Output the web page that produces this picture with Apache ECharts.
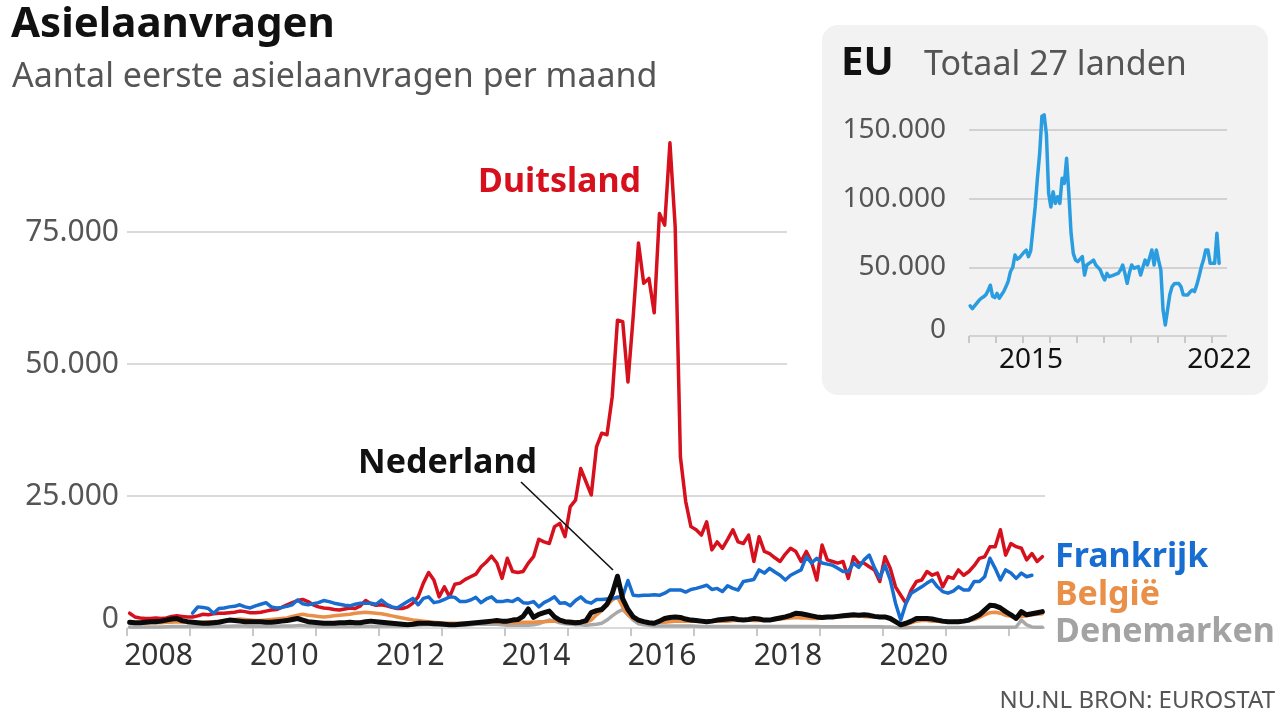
<!DOCTYPE html>
<html><head><meta charset="utf-8">
<script src="https://cdn.jsdelivr.net/npm/echarts@6/dist/echarts.min.js"></script>
<style>html,body{margin:0;padding:0;background:#fff}#c{width:1280px;height:720px}</style>
</head><body><div id="c"></div>
<script>
const FONT = '"Noto Sans", "Open Sans", sans-serif';

// ---- DATA (monthly first-time asylum applications) ----
const mainStart = [2008, 1];      // Jan 2008
const frankrijkStart = [2009, 1]; // Jan 2009
const euStart = [2013, 1];        // Jan 2013
const axisEndYear = 2022 + 7 / 12;

const duitsland = [
  2800,2100,1900,1800,1800,1900,1800,1900,2200,2300,2200,2100,
  2100,2300,2600,2500,2700,2800,2800,2900,3000,3200,3100,2900,
  2900,3000,3200,3400,3500,3900,4400,4800,5200,5400,5000,4400,
  4000,3800,3700,3500,3400,3600,3800,3700,4200,5200,4600,4300,
  4400,4200,3900,3700,3700,4000,4700,5900,8500,10500,9100,5900,
  7800,5900,8300,8500,9200,9700,10200,11600,12500,13600,12300,9400,
  13200,10700,10500,10700,12300,13500,16800,16300,16000,19200,19800,17300,
  23000,24200,30200,27700,25200,34300,36900,36600,43800,58300,58000,46600,
  59000,72900,65300,66200,59700,78500,76300,91900,76000,32400,24000,19200,
  18600,17600,20100,14800,16300,15100,16800,18600,16300,16000,17600,12600,
  17300,14500,14100,13300,12600,14000,15100,14500,12600,14500,12500,9100,
  15700,12900,12600,12300,12600,9400,13500,12300,12300,11600,11000,8800,
  13500,11300,7800,6200,4700,7200,8800,9100,10700,10000,10400,7800,
  9700,9400,11000,10000,10700,11800,13200,13500,15400,15400,18600,13800,
  16000,15400,15100,12900,14100,12600,13500
];
const frankrijk = [
  2800,4000,3900,3700,2800,3700,3800,4000,4100,4400,4000,3800,
  4200,4500,4800,4000,3800,3900,4100,4400,5300,4600,4400,4600,
  4800,5200,5000,4700,4500,4300,4200,4500,4700,4700,4700,4500,
  5300,4500,4000,3800,4400,5000,5600,4400,5600,5900,4800,5000,
  5400,5900,5800,5000,5000,5300,5800,4800,5500,5900,5000,5000,
  5200,5000,5600,4800,4700,5000,4000,4800,5300,5900,4700,4800,
  4200,5200,5900,5000,4700,5400,5400,5500,5600,5800,6000,9000,
  6200,6100,6200,6200,6300,6200,6600,7200,7200,7200,6800,7300,
  7500,7800,8100,7300,7500,6900,8000,7500,7200,8800,9000,9200,
  11000,10400,11300,10600,10000,9100,10000,10500,11000,13500,12300,13200,
  12300,12100,11900,11300,10700,10700,12300,11500,12900,13800,11400,9500,
  11900,9100,4700,1500,4700,6600,7200,7800,8500,9100,7800,6900,
  6600,7000,7800,7200,7200,8800,8800,9700,13200,11300,9100,11000,
  10400,9400,10400,9700,10000
];
const belgie = [
  900,900,900,900,1000,1000,1000,1100,1100,1200,1100,1100,
  1100,1000,1100,1200,1200,1300,1400,1500,1600,1700,1600,1500,
  1400,1400,1500,1600,1700,1800,1900,2200,2400,2600,2400,2300,
  2200,2100,2200,2300,2400,2500,2600,2800,2900,3000,2900,2800,
  2700,2500,2300,2100,1900,1700,1500,1400,1300,1200,1100,1000,
  900,900,900,900,900,900,1000,1000,1100,1200,1100,1000,
  1000,1000,1000,1100,1100,1100,1200,1200,1300,1300,1300,1200,
  1300,1200,1200,1100,1500,2500,3300,4300,5300,5900,4000,2500,
  1800,1300,1100,1000,1000,1100,1100,1200,1300,1300,1300,1300,
  1300,1200,1200,1300,1300,1300,1300,1400,1400,1500,1500,1400,
  1400,1400,1500,1600,1700,1800,1900,2000,1900,1900,1800,1800,
  1900,2000,2100,2100,2200,2200,2300,2300,2200,2100,2200,2100,
  2000,1800,1200,500,600,1000,1300,1400,1400,1300,1300,1200,
  1200,1200,1300,1300,1400,1600,2000,2500,2900,3000,2800,2400,
  2200,2100,2200,2300,2500,2600,2700
];
const denemarken = [
  200,200,200,200,200,200,200,250,300,300,300,300,
  300,300,300,300,300,350,350,350,400,400,400,350,
  350,350,350,350,350,400,400,400,450,450,400,400,
  300,300,300,300,300,300,300,300,350,350,350,300,
  400,400,400,400,400,500,500,500,600,600,600,500,
  500,500,500,500,500,600,700,700,700,700,700,600,
  500,500,500,500,500,600,800,1200,1500,1300,1000,800,
  700,600,600,500,600,700,900,1500,2300,3000,3500,2500,
  1500,800,600,500,400,400,400,400,400,400,400,400,
  350,300,300,300,300,300,300,300,300,300,300,300,
  300,300,300,300,300,300,300,300,300,300,300,300,
  250,250,250,250,250,250,250,250,250,250,250,250,
  200,200,100,50,50,100,100,100,100,100,100,100,
  100,100,100,100,100,100,150,150,150,150,150,150,
  150,200,1500,600,200,150,150
];
const nederland = [
  1100,1000,1000,1100,1200,1200,1300,1500,1700,1800,1400,1200,
  1100,1000,900,900,1000,1100,1300,1500,1400,1300,1200,1200,
  1200,1200,1100,1100,1200,1300,1400,1600,1800,1500,1200,1100,
  1000,900,900,900,1000,1000,1100,1000,1000,1200,1300,1200,
  1100,1000,900,800,700,600,700,900,900,900,800,800,
  700,600,600,700,800,900,1000,1100,1200,1300,1400,1300,
  1300,1500,1600,2200,3600,2000,2600,2900,3200,2100,1500,1200,
  1100,1000,1100,1400,2900,3300,3500,4500,6500,9800,5500,3500,
  2100,1500,1200,1000,900,1300,1800,2000,2100,2000,1700,1500,
  1400,1300,1200,1300,1500,1600,1700,1800,1600,1500,1600,1800,
  1700,1500,1500,1700,1900,2100,2400,2800,2700,2500,2300,2100,
  2000,2100,2100,2200,2300,2400,2500,2400,2500,2400,2200,2100,
  2100,1800,1200,600,900,1300,1800,1800,1800,1700,1500,1300,
  1200,1200,1200,1300,1500,2000,2500,3400,4300,4200,3800,3100,
  2500,1800,3100,2500,2700,2900,3100
];
const eu = [
  22000,20000,22000,24000,26000,27500,28500,30000,33000,37000,29000,28000,
  31000,27500,30000,32500,36000,40000,47000,50000,59000,56000,57000,59000,
  61000,62500,57800,62000,78000,94000,115000,133000,160000,161000,147000,104000,
  94000,105000,96600,101400,96600,114800,111200,129400,103900,74800,60000,55300,
  54100,56000,57800,44400,51700,52900,54000,55300,51700,50000,48100,44000,
  40800,45600,43200,43800,44400,45000,45600,48000,51700,45600,38300,46000,
  51700,49300,50000,50500,44400,50000,55300,51700,57000,62600,51700,62600,
  55000,48100,18900,8000,18900,30000,35900,38000,38300,38300,35900,30000,
  29900,29900,32000,33500,32300,37000,43200,50000,55300,62600,62600,52900,
  52900,52900,74800,52900
];

// tick / label values
const mainYTicks = [0, 25000, 50000, 75000];
const mainYearTicks = [2008,2009,2010,2011,2012,2013,2014,2015,2016,2017,2018,2019,2020,2021,2022];
const mainYearLabels = ['2008','2010','2012','2014','2016','2018','2020'];
const euYTicks = [0, 50000, 100000, 150000];
const euYearTicks = [2013,2014,2015,2016,2017,2018,2019,2020,2021,2022];
const euYearLabels = ['2015','2022'];

// ---- helpers ----
function toPoints(start, values) {
  return values.map((v, i) => [start[0] + (start[1] - 1 + i + 0.5) / 12, v]);
}
function fmt(v) { return String(v).replace(/\B(?=(\d{3})+(?!\d))/g, '.'); }

const C = {
  red: '#d6101d', blue: '#176dd0', orange: '#ea8f48', gray: '#a9a9a9',
  black: '#0a0a0a', eu: '#2a9de0', grid: '#dadada', text: '#555555'
};

const chart = echarts.init(document.getElementById('c'), null, {renderer: 'canvas'});

function lineSeries(name, data, color, width, xi, yi) {
  return {
    name, type: 'line', data, xAxisIndex: xi, yAxisIndex: yi,
    showSymbol: false, symbol: 'none', connectNulls: false,
    lineStyle: {color, width, join: 'round', cap: 'round'},
    itemStyle: {color}, silent: true, animation: false
  };
}

function txt(text, x, y, size, color, bold, align) {
  return {
    type: 'text', x, y, silent: true,
    style: {
      text, fill: color,
      font: (bold ? 'bold ' : '') + size + 'px ' + FONT,
      textAlign: align || 'left', textVerticalAlign: 'middle',
      align: align || 'left', verticalAlign: 'middle'
    }
  };
}

const option = {
  backgroundColor: '#ffffff',
  animation: false,
  textStyle: {fontFamily: FONT},
  grid: [
    {left: 127, right: 235, top: 100, bottom: 92},
    {left: 127, right: 493, top: 100, bottom: 92},
    {left: 969, right: 53, top: 95.7, bottom: 384}
  ],
  xAxis: [
    {
      gridIndex: 0, type: 'value', min: mainStart[0], max: axisEndYear,
      axisLine: {show: false},
      axisTick: {show: true, customValues: mainYearTicks, length: 8, lineStyle: {color: '#c8c8c8', width: 2}},
      axisLabel: {
        show: true, customValues: mainYearLabels.map(s => +s + 0.5),
        formatter: v => String(Math.floor(v)), fontSize: 30, color: '#333', fontFamily: FONT, margin: 13
      },
      splitLine: {show: false}
    },
    {gridIndex: 1, type: 'value', min: mainStart[0], max: axisEndYear, show: false},
    {
      gridIndex: 2, type: 'value', min: euStart[0], max: axisEndYear,
      axisLine: {show: false},
      axisTick: {show: true, customValues: euYearTicks, length: 7, lineStyle: {color: '#c8c8c8', width: 2}},
      axisLabel: {
        show: true, customValues: euYearLabels.map(s => +s + 0.3),
        formatter: v => String(Math.floor(v)), fontSize: 28, color: '#111', fontFamily: FONT, margin: 10
      },
      splitLine: {show: false}
    }
  ],
  yAxis: [
    {
      gridIndex: 0, type: 'value', min: 0, max: 100000, interval: 25000,
      axisLine: {show: false}, axisTick: {show: false},
      axisLabel: {
        margin: 8, fontSize: 30, color: C.text, fontFamily: FONT,
        formatter: v => (v === 0 ? '{z|0}' : (mainYTicks.indexOf(v) >= 0 ? fmt(v) : '')),
        rich: {z: {fontSize: 30, color: C.text, fontFamily: FONT, padding: [0, 0, 18, 0]}}
      },
      splitLine: {show: true, lineStyle: {color: [C.grid, C.grid, 'transparent', 'transparent', 'transparent'], width: 2}}
    },
    {
      gridIndex: 1, type: 'value', min: 0, max: 100000, interval: 25000,
      axisLine: {show: false}, axisTick: {show: false}, axisLabel: {show: false},
      splitLine: {show: true, lineStyle: {color: ['transparent', 'transparent', C.grid, C.grid, 'transparent'], width: 2}}
    },
    {
      gridIndex: 2, type: 'value', min: 0, max: 175000, interval: 50000,
      axisLine: {show: false}, axisTick: {show: false},
      axisLabel: {
        margin: 23, fontSize: 28, color: C.text, fontFamily: FONT,
        formatter: v => (v === 0 ? '{z|0}' : (euYTicks.indexOf(v) >= 0 ? fmt(v) : '')),
        rich: {z: {fontSize: 28, color: C.text, fontFamily: FONT, padding: [0, 0, 12, 0]}}
      },
      splitLine: {show: true, lineStyle: {color: ['#d2d2d2', '#d2d2d2', '#d2d2d2', '#d2d2d2', 'transparent'], width: 2}}
    }
  ],
  series: [
    lineSeries('Denemarken', toPoints(mainStart, denemarken), C.gray, 3.5, 0, 0),
    lineSeries('België', toPoints(mainStart, belgie), C.orange, 3.5, 0, 0),
    lineSeries('Duitsland', toPoints(mainStart, duitsland), C.red, 3.5, 0, 0),
    lineSeries('Frankrijk', toPoints(frankrijkStart, frankrijk), C.blue, 3.5, 0, 0),
    lineSeries('Nederland', toPoints(mainStart, nederland), C.black, 5, 0, 0),
    lineSeries('EU', toPoints(euStart, eu), C.eu, 3.5, 2, 2)
  ],
  graphic: [
    {type: 'rect', shape: {x: 822, y: 25, width: 446, height: 370, r: 16}, style: {fill: '#f2f2f2'}, z: -10, silent: true},
    txt('Asielaanvragen', 11, 25, 42, '#111', true),
    txt('Aantal eerste asielaanvragen per maand', 12, 77, 34, C.text, false),
    txt('EU', 841, 64, 40, '#111', true),
    txt('Totaal 27 landen', 924, 65, 34, C.text, false),
    txt('Duitsland', 478, 182, 34, C.red, true),
    txt('Nederland', 358, 463, 34, '#111', true),
    {type: 'line', shape: {x1: 521, y1: 482, x2: 613, y2: 570}, style: {stroke: '#111', lineWidth: 1.6}, silent: true, z: 10},
    txt('Frankrijk', 1055, 557, 34, C.blue, true),
    txt('België', 1055, 595, 34, C.orange, true),
    txt('Denemarken', 1055, 632, 34, '#a3a3a3', true),
    txt('NU.NL BRON: EUROSTAT', 1275, 701, 24, C.text, false, 'right')
  ]
};
chart.setOption(option);
</script>
</body></html>
